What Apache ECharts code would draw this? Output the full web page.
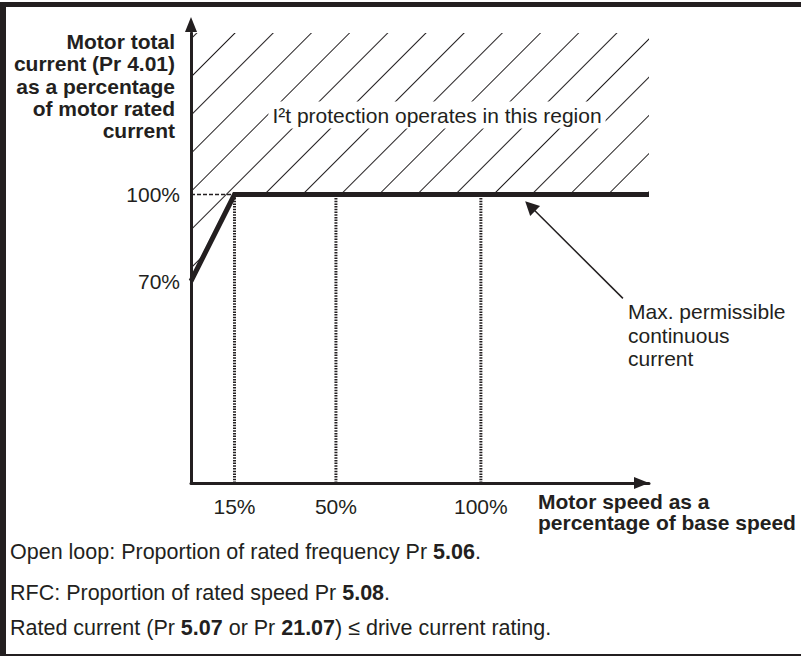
<!DOCTYPE html>
<html>
<head>
<meta charset="utf-8">
<title>Max. permissible continuous current</title>
<script src="https://cdn.jsdelivr.net/npm/echarts@6/dist/echarts.min.js"></script>
<style>
  html, body { margin: 0; padding: 0; background: #fff; }
  #chart { width: 801px; height: 657px; }
</style>
</head>
<body>
<div id="chart"></div>
<script>
// speed (% of base speed) where the limit curve bends, and the limit there (% of rated current)
var speedPoints = [0, 15, 158];
var currentLimit = [70, 100, 100];
// tick labels
var speedTicks = [15, 50, 100];
var currentTicks = [70, 100];
// dotted guides drop from the 100% line at these speeds
var guideSpeeds = [15, 50, 100];
var ratedLevel = 100;
// pointer to the limit line: [speed, current]
var arrowFrom = [149, 64];
var arrowTo = [117, 96];

var footNotes = [
  'Open loop: Proportion of rated frequency Pr {b|5.06}.',
  'RFC: Proportion of rated speed Pr {b|5.08}.',
  'Rated current (Pr {b|5.07} or Pr {b|21.07}) \u2264 drive current rating.'
];

var ink = '#231f20';
var font = '"Liberation Sans", Arial, Helvetica, sans-serif';

var myChart = echarts.init(document.getElementById('chart'), null, { renderer: 'svg' });

// diagonal hatch for the overload region
var hatch = {
  symbol: 'rect',
  symbolSize: 1,
  color: ink,
  backgroundColor: 'rgba(0,0,0,0)',
  dashArrayX: [1, 0],
  dashArrayY: [1, 26],
  rotation: -Math.PI / 4
};

function text(x, y, str, extra) {
  return {
    type: 'text', x: x, y: y, z: 100,
    style: Object.assign({
      text: str, fontFamily: font, fontSize: 21, fill: ink,
      align: 'left', verticalAlign: 'middle'
    }, extra || {})
  };
}

var boldRich = { b: { fontWeight: 'bold', fontSize: 21.5, fontFamily: font, fill: ink } };

var limitData = speedPoints.map(function (s, i) { return [s, currentLimit[i]]; });

var series = [{
  name: 'limit',
  type: 'line',
  data: limitData,
  symbol: 'none',
  z: 5,
  lineStyle: { color: ink, width: 5, join: 'miter', decal: hatch },
  itemStyle: { color: ink, decal: hatch },
  areaStyle: { origin: 'end', color: 'rgba(255,255,255,0)', opacity: 1 },
  markLine: {
    silent: true,
    animation: false,
    label: { show: false },
    symbol: ['none', 'triangle'],
    symbolSize: 14,
    lineStyle: { color: ink, width: 1.5, type: 'solid' },
    data: [[{ coord: arrowFrom }, { coord: arrowTo }]]
  }
}];

guideSpeeds.forEach(function (s) {
  series.push({
    type: 'line',
    data: [[s, 0], [s, ratedLevel]],
    symbol: 'none',
    z: 3,
    lineStyle: { color: ink, width: 3, type: [1.5, 1.2] }
  });
});

series.push({
  type: 'line',
  data: [[0, ratedLevel], [speedTicks[0], ratedLevel]],
  symbol: 'none',
  z: 3,
  lineStyle: { color: ink, width: 1.5, type: [4, 2] }
});

var option = {
  animation: false,
  backgroundColor: '#fff',
  grid: { left: 191, top: 33, width: 458, height: 450, containLabel: false },
  xAxis: {
    type: 'value',
    min: 0,
    max: 158,
    z: 10,
    axisLine: {
      lineStyle: { color: ink, width: 3 },
      symbol: ['none', 'triangle'],
      symbolSize: [12, 15],
      symbolOffset: [0, -7.5]
    },
    axisTick: { show: false },
    splitLine: { show: false },
    axisLabel: {
      customValues: speedTicks,
      formatter: '{value}%',
      margin: 13,
      color: ink,
      fontFamily: font,
      fontSize: 21
    }
  },
  yAxis: {
    type: 'value',
    min: 0,
    max: 156,
    z: 10,
    axisLine: {
      lineStyle: { color: ink, width: 3 },
      symbol: ['none', 'triangle'],
      symbolSize: [12, 15],
      symbolOffset: [0, 8.5]
    },
    axisTick: { show: false },
    splitLine: { show: false },
    axisLabel: {
      customValues: currentTicks,
      formatter: '{value}%',
      margin: 11,
      color: ink,
      fontFamily: font,
      fontSize: 21
    }
  },
  series: series,
  graphic: [
    // frame
    { type: 'rect', z: 100, shape: { x: 0, y: 2, width: 801, height: 5 }, style: { fill: ink } },
    { type: 'rect', z: 100, shape: { x: 0, y: 2, width: 6, height: 654 }, style: { fill: ink } },
    { type: 'rect', z: 100, shape: { x: 0, y: 654, width: 801, height: 2 }, style: { fill: ink } },
    // axis titles
    text(175, 30, 'Motor total\ncurrent (Pr 4.01)\nas a percentage\nof motor rated\ncurrent',
      { align: 'right', verticalAlign: 'top', fontWeight: 'bold', lineHeight: 22.4 }),
    text(538, 491, 'Motor speed as a\npercentage of base speed',
      { verticalAlign: 'top', fontWeight: 'bold', lineHeight: 21 }),
    // annotations
    text(437, 115, 'I\u00b2t protection operates in this region',
      { align: 'center', backgroundColor: '#fff', padding: [3, 4] }),
    text(628, 300, 'Max. permissible\ncontinuous\ncurrent',
      { verticalAlign: 'top', lineHeight: 23.5 }),
    // foot notes
    text(10, 552, footNotes[0], { fontSize: 21.5, rich: boldRich }),
    text(10, 593, footNotes[1], { fontSize: 21.5, rich: boldRich }),
    text(10, 628, footNotes[2], { fontSize: 21.5, rich: boldRich })
  ]
};

myChart.setOption(option);
</script>
</body>
</html>
